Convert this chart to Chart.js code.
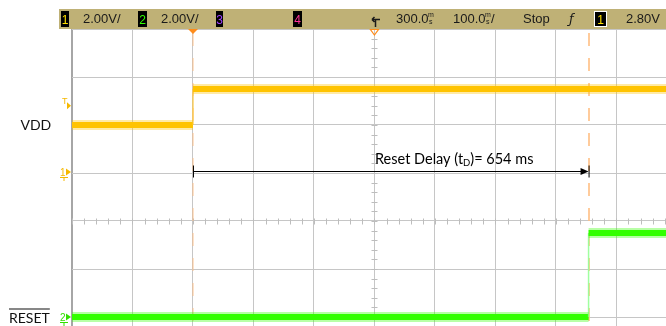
<!DOCTYPE html>
<html>
<head>
<meta charset="utf-8">
<script src="https://cdn.jsdelivr.net/npm/chart.js@4.4.0/dist/chart.umd.min.js"></script>
<style>
  html, body { margin: 0; padding: 0; background: #fff; overflow: hidden; }
  canvas { display: block; }
</style>
</head>
<body>
<canvas id="scope" width="666" height="326"></canvas>
<script>
// ---- Acquisition data (time in ms, amplitude in V) ----
const vddTimeMs    = [-200, 0, 0, 782];
const vddVolts     = [2.0, 2.0, 3.5, 3.5];
const resetTimeMs  = [-200, 654, 654, 782];
const resetVolts   = [0, 0, 3.5, 3.5];
const resetDelayMs = 654;
const triggerLevelV = 2.80;

// ---- Front-panel settings ----
const channelScaleText = ['2.00V/', '2.00V/'];
const horizPositionText = '300.0';
const timebaseText = '100.0';
const runStateText = 'Stop';
const triggerLevelText = '2.80V';

// Visible window: 100 ms/div, horizontal position 300 ms at screen centre
const xMinMs = -200, xMaxMs = 782, msPerDiv = 100, horizPosMs = 300;
// Vertical: 2 V/div, ch1 ground 3 div below top, ch2 ground 6 div below top
const voltsPerDiv = 2, visibleDivs = 6.1875;
const ch1Max = 3 * voltsPerDiv, ch1Min = ch1Max - visibleDivs * voltsPerDiv;
const ch2Max = 6 * voltsPerDiv, ch2Min = ch2Max - visibleDivs * voltsPerDiv;

const toPoints = (times, volts) => times.map((t, i) => ({ x: t, y: volts[i] }));
const isEdge = c => c.p0.parsed.x === c.p1.parsed.x;

const YELLOW = '#ffc400';
const GREEN = '#33ff00';

function msGlyph(ctx, x) {
  ctx.save();
  ctx.font = '7px "Liberation Sans"';
  ctx.textAlign = 'left';
  ctx.fillText('m', x, 17);
  ctx.fillText('s', x + 1, 24);
  ctx.restore();
}

function chanBox(ctx, x, w, label, color, outline) {
  ctx.fillStyle = '#000';
  ctx.fillRect(x, 11, w, 16);
  if (outline) {
    ctx.strokeStyle = '#fff';
    ctx.lineWidth = 1;
    ctx.strokeRect(x + 0.5, 11.5, w - 1, 15);
  }
  ctx.fillStyle = color;
  ctx.font = '12px "Liberation Sans Narrow", "Liberation Sans"';
  ctx.textAlign = 'center';
  ctx.fillText(label, x + w / 2, 24);
}

function groundMarker(ctx, cy, label, color, withGround) {
  ctx.fillStyle = color;
  ctx.font = '10px "Liberation Sans"';
  ctx.textAlign = 'left';
  ctx.fillText(label, 60, cy + 3.5);
  ctx.beginPath();
  ctx.moveTo(66, cy - 3.5); ctx.lineTo(71, cy); ctx.lineTo(66, cy + 3.5); ctx.closePath();
  ctx.fill();
  if (withGround) {
    ctx.strokeStyle = color;
    ctx.lineWidth = 1;
    ctx.beginPath();
    ctx.moveTo(60, cy + 5.5); ctx.lineTo(68, cy + 5.5);
    ctx.moveTo(64, cy + 5.5); ctx.lineTo(64, cy + 9);
    ctx.stroke();
  }
}

const scopeDecor = {
  id: 'scopeDecor',
  beforeDatasetsDraw(chart) {
    const { ctx, chartArea: a, scales: { x, y } } = chart;
    ctx.save();
    // minor ticks on the centre graticule axes
    ctx.strokeStyle = '#bdbdbd';
    ctx.lineWidth = 1;
    const cx = Math.round(x.getPixelForValue(horizPosMs)) + 0.5;
    const cy = Math.round(y.getPixelForValue(ch1Max - 4 * voltsPerDiv)) + 0.5;
    ctx.beginPath();
    for (let t = xMinMs; t <= xMaxMs; t += msPerDiv / 5) {
      const px = Math.round(x.getPixelForValue(t)) + 0.5;
      ctx.moveTo(px, cy - 3); ctx.lineTo(px, cy + 3);
    }
    for (let v = ch1Max; v >= ch1Min; v -= voltsPerDiv / 5) {
      const py = Math.round(y.getPixelForValue(v)) + 0.5;
      ctx.moveTo(cx - 3, py); ctx.lineTo(cx + 3, py);
    }
    ctx.stroke();
    // time cursors
    ctx.setLineDash([13, 12]);
    ctx.strokeStyle = 'rgba(255,190,130,0.8)';
    ctx.lineWidth = 2;
    [0, resetDelayMs].forEach((t, i) => {
      const px = Math.round(x.getPixelForValue(t));
      ctx.globalAlpha = i === 0 ? 0.55 : 1;
      ctx.beginPath();
      ctx.moveTo(px, a.top + 4); ctx.lineTo(px, a.bottom);
      ctx.stroke();
    });
    ctx.restore();
  },
  afterDraw(chart) {
    const { ctx, scales: { x, y, y2 } } = chart;
    ctx.save();
    ctx.textBaseline = 'alphabetic';

    // status bar
    ctx.fillStyle = '#bfb176';
    ctx.fillRect(59, 9, 607, 20);
    chanBox(ctx, 61, 8, '1', '#ffe000', false);
    chanBox(ctx, 138, 9, '2', '#33ff00', false);
    chanBox(ctx, 216, 7, '3', '#a040ff', false);
    chanBox(ctx, 293, 9, '4', '#ff3399', false);
    chanBox(ctx, 594, 13, '1', '#ffe000', true);

    ctx.fillStyle = '#1a1a1a';
    ctx.font = '13px "Liberation Sans"';
    ctx.textAlign = 'left';
    ctx.fillText(channelScaleText[0], 83, 23);
    ctx.fillText(channelScaleText[1], 161, 23);
    ctx.fillText(horizPositionText, 396, 23);
    msGlyph(ctx, 428);
    ctx.fillText(timebaseText, 453, 23);
    msGlyph(ctx, 485);
    ctx.fillText('/', 491, 23);
    ctx.fillText(runStateText, 523, 23);
    ctx.fillText(triggerLevelText, 626, 23);
    ctx.font = 'italic 13px "DejaVu Sans"';
    ctx.fillText('ƒ', 569, 23);

    // delay symbol
    ctx.strokeStyle = '#1a1a1a';
    ctx.lineWidth = 1.5;
    ctx.beginPath();
    ctx.moveTo(372, 19.5); ctx.lineTo(380, 19.5);
    ctx.moveTo(375.5, 19.5); ctx.lineTo(375.5, 27);
    ctx.moveTo(372, 19.5); ctx.lineTo(374.5, 17); ctx.moveTo(372, 19.5); ctx.lineTo(374.5, 22);
    ctx.stroke();

    // trigger point and delay markers
    const trigX = x.getPixelForValue(0);
    ctx.fillStyle = '#ff8c1a';
    ctx.beginPath();
    ctx.moveTo(trigX - 5, 29); ctx.lineTo(trigX + 5, 29); ctx.lineTo(trigX, 34); ctx.closePath();
    ctx.fill();
    const delayX = x.getPixelForValue(horizPosMs);
    ctx.strokeStyle = '#ff8c1a';
    ctx.lineWidth = 1.2;
    ctx.beginPath();
    ctx.moveTo(delayX - 4, 29.5); ctx.lineTo(delayX + 4, 29.5); ctx.lineTo(delayX, 35); ctx.closePath();
    ctx.stroke();

    // channel ground / trigger level markers
    const trigY = y.getPixelForValue(triggerLevelV);
    ctx.fillStyle = '#f5b800';
    ctx.font = '9px "Liberation Sans"';
    ctx.fillText('T', 62, trigY - 2);
    ctx.beginPath();
    ctx.moveTo(67, trigY - 3.5); ctx.lineTo(71, trigY); ctx.lineTo(67, trigY + 3.5); ctx.closePath();
    ctx.fill();
    groundMarker(ctx, y.getPixelForValue(0) - 1, '1', '#f5b800', true);
    groundMarker(ctx, y2.getPixelForValue(0), '2', '#33e000', true);

    // signal names
    ctx.fillStyle = '#111';
    ctx.font = '14px Lato';
    ctx.textAlign = 'left';
    ctx.fillText('VDD', 20.5, 129.5);
    ctx.fillText('RESET', 9, 323);
    const rw = ctx.measureText('RESET').width;
    ctx.fillRect(9, 308.5, rw, 1);

    // reset delay measurement
    const x0 = x.getPixelForValue(0);
    const x1 = x.getPixelForValue(resetDelayMs);
    const ay = Math.round(y.getPixelForValue(0)) - 1.5;
    ctx.strokeStyle = '#000';
    ctx.fillStyle = '#000';
    ctx.lineWidth = 1;
    ctx.beginPath();
    ctx.moveTo(x0, ay); ctx.lineTo(x1 - 6, ay);
    ctx.moveTo(x0 + 0.5, ay - 6); ctx.lineTo(x0 + 0.5, ay + 6);
    ctx.moveTo(x1 + 0.5, ay - 6); ctx.lineTo(x1 + 0.5, ay + 6);
    ctx.stroke();
    ctx.beginPath();
    ctx.moveTo(x1, ay); ctx.lineTo(x1 - 8, ay - 3.5); ctx.lineTo(x1 - 8, ay + 3.5); ctx.closePath();
    ctx.fill();

    let tx = Math.round(x.getPixelForValue(horizPosMs)) + 1;
    const ty = ay - 7.5;
    ctx.font = '14.5px Lato';
    const p1 = 'Reset Delay (t';
    ctx.fillText(p1, tx, ty);
    tx += ctx.measureText(p1).width;
    ctx.font = '9.5px Lato';
    ctx.fillText('D', tx, ty + 2);
    tx += ctx.measureText('D').width;
    ctx.font = '14.5px Lato';
    ctx.fillText(')= ' + resetDelayMs + ' ms', tx, ty);

    ctx.restore();
  }
};

new Chart(document.getElementById('scope'), {
  type: 'line',
  data: {
    datasets: [
      { // VDD halo
        data: toPoints(vddTimeMs, vddVolts), yAxisID: 'y',
        borderColor: 'rgba(255,196,0,0.35)', borderWidth: 10,
        segment: { borderColor: c => isEdge(c) ? 'rgba(0,0,0,0)' : 'rgba(255,196,0,0.35)' }
      },
      { // VDD core
        data: toPoints(vddTimeMs, vddVolts), yAxisID: 'y',
        borderColor: YELLOW, borderWidth: 6,
        segment: {
          borderWidth: c => isEdge(c) ? 1.5 : 6,
          borderColor: c => isEdge(c) ? 'rgba(255,200,60,0.8)' : YELLOW
        }
      },
      { // RESET halo
        data: toPoints(resetTimeMs, resetVolts), yAxisID: 'y2',
        borderColor: 'rgba(51,255,0,0.35)', borderWidth: 10,
        segment: { borderColor: c => isEdge(c) ? 'rgba(0,0,0,0)' : 'rgba(51,255,0,0.35)' }
      },
      { // RESET core
        data: toPoints(resetTimeMs, resetVolts), yAxisID: 'y2',
        borderColor: GREEN, borderWidth: 6,
        segment: {
          borderWidth: c => isEdge(c) ? 1.5 : 6,
          borderColor: c => isEdge(c) ? 'rgba(150,255,150,0.9)' : GREEN
        }
      }
    ]
  },
  options: {
    responsive: false,
    animation: false,
    events: [],
    layout: { padding: { left: 72, top: 29, right: 0, bottom: 0 } },
    elements: { point: { radius: 0 }, line: { tension: 0, borderCapStyle: 'butt' } },
    plugins: { legend: { display: false }, tooltip: { enabled: false } },
    scales: {
      x: {
        type: 'linear', min: xMinMs, max: xMaxMs,
        border: { display: false },
        ticks: { display: false, stepSize: msPerDiv, includeBounds: false },
        grid: {
          drawTicks: false,
          color: c => c.tick && c.tick.value === xMinMs ? '#a6a6a6' : '#c6c6c6',
          lineWidth: c => c.tick && c.tick.value === xMinMs ? 2 : 1
        }
      },
      y: {
        min: ch1Min, max: ch1Max,
        border: { display: false },
        ticks: { display: false, stepSize: voltsPerDiv, includeBounds: false },
        grid: { drawTicks: false, color: '#c6c6c6', lineWidth: 1 }
      },
      y2: { display: false, min: ch2Min, max: ch2Max }
    }
  },
  plugins: [scopeDecor]
});
</script>
</body>
</html>
